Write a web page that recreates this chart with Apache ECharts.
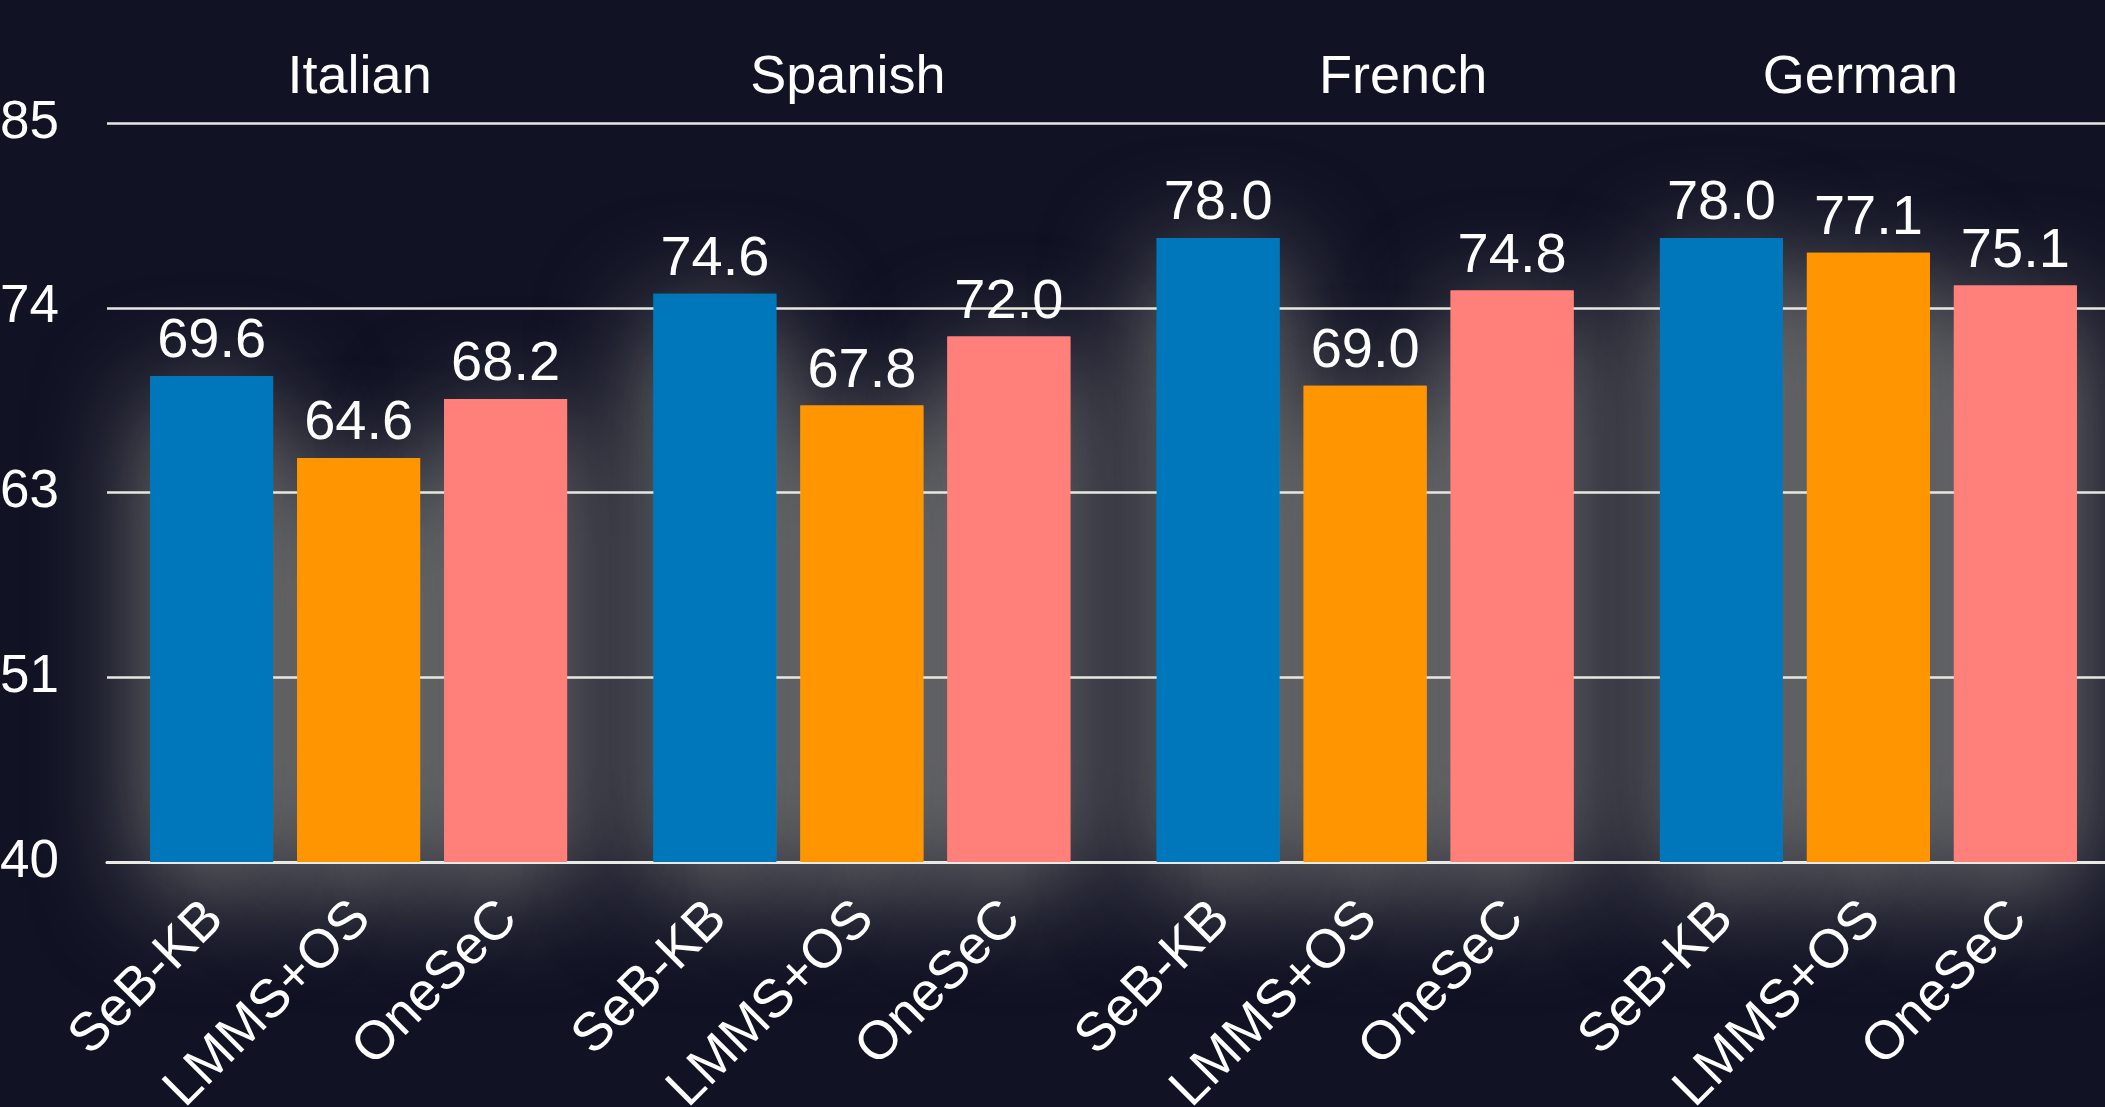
<!DOCTYPE html>
<html>
<head>
<meta charset="utf-8">
<script src="https://cdn.jsdelivr.net/npm/echarts@6/dist/echarts.min.js"></script>
<style>
  html, body { margin: 0; padding: 0; background: #111224; }
  #chart { width: 2105px; height: 1107px; }
</style>
</head>
<body>
<div id="chart"></div>
<script>
// data
const languages = ['Italian', 'Spanish', 'French', 'German']
const methods = ['SeB-KB', 'LMMS+OS', 'OneSeC']
const sebKb = [69.6, 74.6, 78.0, 78.0]
const lmmsOs = [64.6, 67.8, 69.0, 77.1]
const oneSec = [68.2, 72.0, 74.8, 75.1]
const yTicks = [40, 51.25, 62.5, 73.75, 85]

const colors = ['#0077bb', '#ff9500', '#ff7f7a']
const font = "'Liberation Sans', Arial, Helvetica, sans-serif"

// the group titles are not exactly centred in the reference
const titleRich = {
  it: { padding: [0, 0, 0, 2] },
  es: { padding: [0, 28, 0, 0] },
  fr: { padding: [0, 0, 0, 76] },
  de: { padding: [0, 16, 0, 0] }
}
const titleKeys = ['it', 'es', 'fr', 'de']

const chart = echarts.init(document.getElementById('chart'))

const barLayout = { barWidth: 123, barGap: '19.5%' }

// glow layer, drawn under the grid lines
const makeGlow = (values, color) => ({
  type: 'bar',
  data: values,
  xAxisIndex: 2,
  ...barLayout,
  z: 0,
  silent: true,
  itemStyle: {
    color: color,
    shadowBlur: 110,
    shadowOffsetY: 25,
    shadowColor: 'rgba(215, 215, 195, 0.55)'
  }
})

const makeSeries = (name, values, color, idx) => ({
  name: name,
  type: 'bar',
  data: values,
  ...barLayout,
  z: 2,
  itemStyle: { color: color },
  label: {
    show: true,
    position: 'top',
    distance: 6,
    color: '#ffffff',
    fontSize: 56,
    fontFamily: font,
    formatter: p => p.value.toFixed(1)
  },
  // method names under each bar, rotated like axis labels
  markPoint: {
    symbol: 'rect',
    symbolSize: 1,
    silent: true,
    itemStyle: { color: 'rgba(0,0,0,0)' },
    label: {
      show: true,
      position: [4, 49],
      rotate: 45,
      align: 'right',
      verticalAlign: 'middle',
      color: '#ffffff',
      fontSize: 54,
      fontFamily: font,
      formatter: () => name
    },
    data: languages.map(l => ({ coord: [l, 40] }))
  },
  // horizontal grid lines at the y ticks
  markLine: idx === 0 ? {
    silent: true,
    symbol: 'none',
    z: 1,
    label: { show: false },
    lineStyle: { color: '#e8e8e2', width: 2.5, type: 'solid' },
    data: yTicks.map(v => ({ yAxis: v }))
  } : undefined
})

const option = {
  backgroundColor: '#111224',
  animation: false,
  grid: { left: 107, right: -15, top: 123, bottom: 245, outerBoundsMode: 'none' },
  xAxis: [
    {
      type: 'category',
      data: languages,
      position: 'bottom',
      axisLine: { show: true, lineStyle: { color: '#ffffff', width: 3 } },
      axisTick: { show: false },
      axisLabel: { show: false }
    },
    {
      type: 'category',
      data: languages,
      position: 'top',
      axisLine: { show: false },
      axisTick: { show: false },
      axisLabel: {
        color: '#ffffff',
        fontSize: 54,
        fontFamily: font,
        margin: 18,
        formatter: (v, i) => '{' + titleKeys[i] + '|' + v + '}',
        rich: titleRich
      }
    },
    {
      type: 'category',
      data: languages,
      show: false
    }
  ],
  yAxis: {
    type: 'value',
    min: 40,
    max: 85,
    axisLine: { show: false },
    axisTick: { show: false },
    splitLine: { show: false },
    axisLabel: {
      customValues: yTicks,
      color: '#ffffff',
      fontSize: 53,
      fontFamily: font,
      margin: 48,
      formatter: v => String(Math.round(v))
    }
  },
  series: [
    makeGlow(sebKb, colors[0]),
    makeGlow(lmmsOs, colors[1]),
    makeGlow(oneSec, colors[2]),
    makeSeries(methods[0], sebKb, colors[0], 0),
    makeSeries(methods[1], lmmsOs, colors[1], 1),
    makeSeries(methods[2], oneSec, colors[2], 2)
  ]
}

chart.setOption(option)
</script>
</body>
</html>
